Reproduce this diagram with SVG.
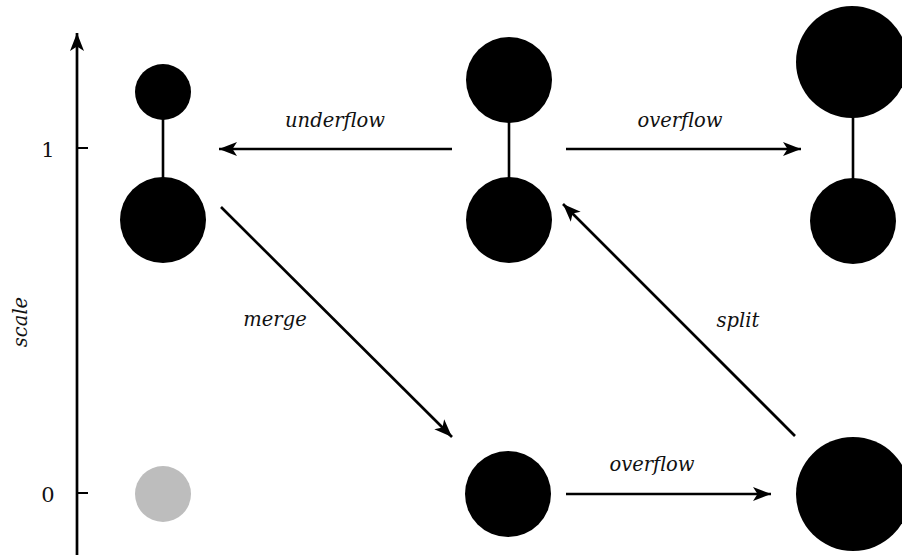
<svg xmlns="http://www.w3.org/2000/svg" width="902" height="555" viewBox="0 0 902 555">
  <style>
    .dot { fill: #000; }
    .ghost { fill: #bdbdbd; }
    .link { stroke: #000; stroke-width: 2.6; fill: none; }
    .edge { stroke: #000; stroke-width: 2.7; fill: none; marker-end: url(#head); }
    .lbl { font-family: "DejaVu Serif", "Liberation Serif", serif; font-style: italic; font-size: 19.5px; fill: #111; text-anchor: middle; }
    .tick { font-family: "DejaVu Serif", "Liberation Serif", serif; font-size: 21px; fill: #111; text-anchor: middle; }
  </style>
  <defs>
    <marker id="head" markerUnits="userSpaceOnUse" orient="auto" markerWidth="20" markerHeight="16" refX="0" refY="0" viewBox="-18 -8 20 16" overflow="visible">
      <path d="M0,0 L-18,-7 L-13.5,0 L-18,7 Z" fill="#000"/>
    </marker>
  </defs>

  <!-- scale axis -->
  <g id="axis">
    <line x1="77" y1="555" x2="77" y2="33" class="edge"/>
    <line x1="77" y1="148" x2="88" y2="148" stroke="#000" stroke-width="2"/>
    <line x1="77" y1="493" x2="88" y2="493" stroke="#000" stroke-width="2"/>
    <text x="48" y="157" class="tick">1</text>
    <text x="48" y="502" class="tick">0</text>
    <text transform="translate(27,322) rotate(-90)" class="lbl">scale</text>
  </g>

  <!-- level-1 nodes -->
  <g id="node-left">
    <line x1="163" y1="110" x2="163" y2="190" class="link"/>
    <circle cx="163" cy="92" r="28" class="dot"/>
    <circle cx="163" cy="220" r="43" class="dot"/>
  </g>
  <g id="node-mid">
    <line x1="509" y1="110" x2="509" y2="190" class="link"/>
    <circle cx="509" cy="80" r="43" class="dot"/>
    <circle cx="509" cy="220" r="43" class="dot"/>
  </g>
  <g id="node-right">
    <line x1="853" y1="100" x2="853" y2="190" class="link"/>
    <circle cx="852" cy="62" r="56" class="dot"/>
    <circle cx="853" cy="221" r="43" class="dot"/>
  </g>

  <!-- level-0 nodes -->
  <g id="node-empty">
    <circle cx="163" cy="494" r="28" class="ghost"/>
  </g>
  <g id="node-bottom-mid">
    <circle cx="508" cy="494" r="43" class="dot"/>
  </g>
  <g id="node-bottom-right">
    <circle cx="853" cy="494" r="57" class="dot"/>
  </g>

  <!-- transitions -->
  <g id="connectors">
    <line x1="452" y1="149" x2="219" y2="149" class="edge"/>
    <line x1="566" y1="149" x2="801" y2="149" class="edge"/>
    <line x1="221" y1="207" x2="452" y2="437" class="edge"/>
    <line x1="795" y1="436" x2="563" y2="204" class="edge"/>
    <line x1="566" y1="494" x2="771" y2="494" class="edge"/>
  </g>

  <g id="labels">
    <text x="335" y="127" class="lbl">underflow</text>
    <text x="680" y="127" class="lbl">overflow</text>
    <text x="275" y="326" class="lbl">merge</text>
    <text x="738" y="327" class="lbl">split</text>
    <text x="652" y="471" class="lbl">overflow</text>
  </g>
</svg>
